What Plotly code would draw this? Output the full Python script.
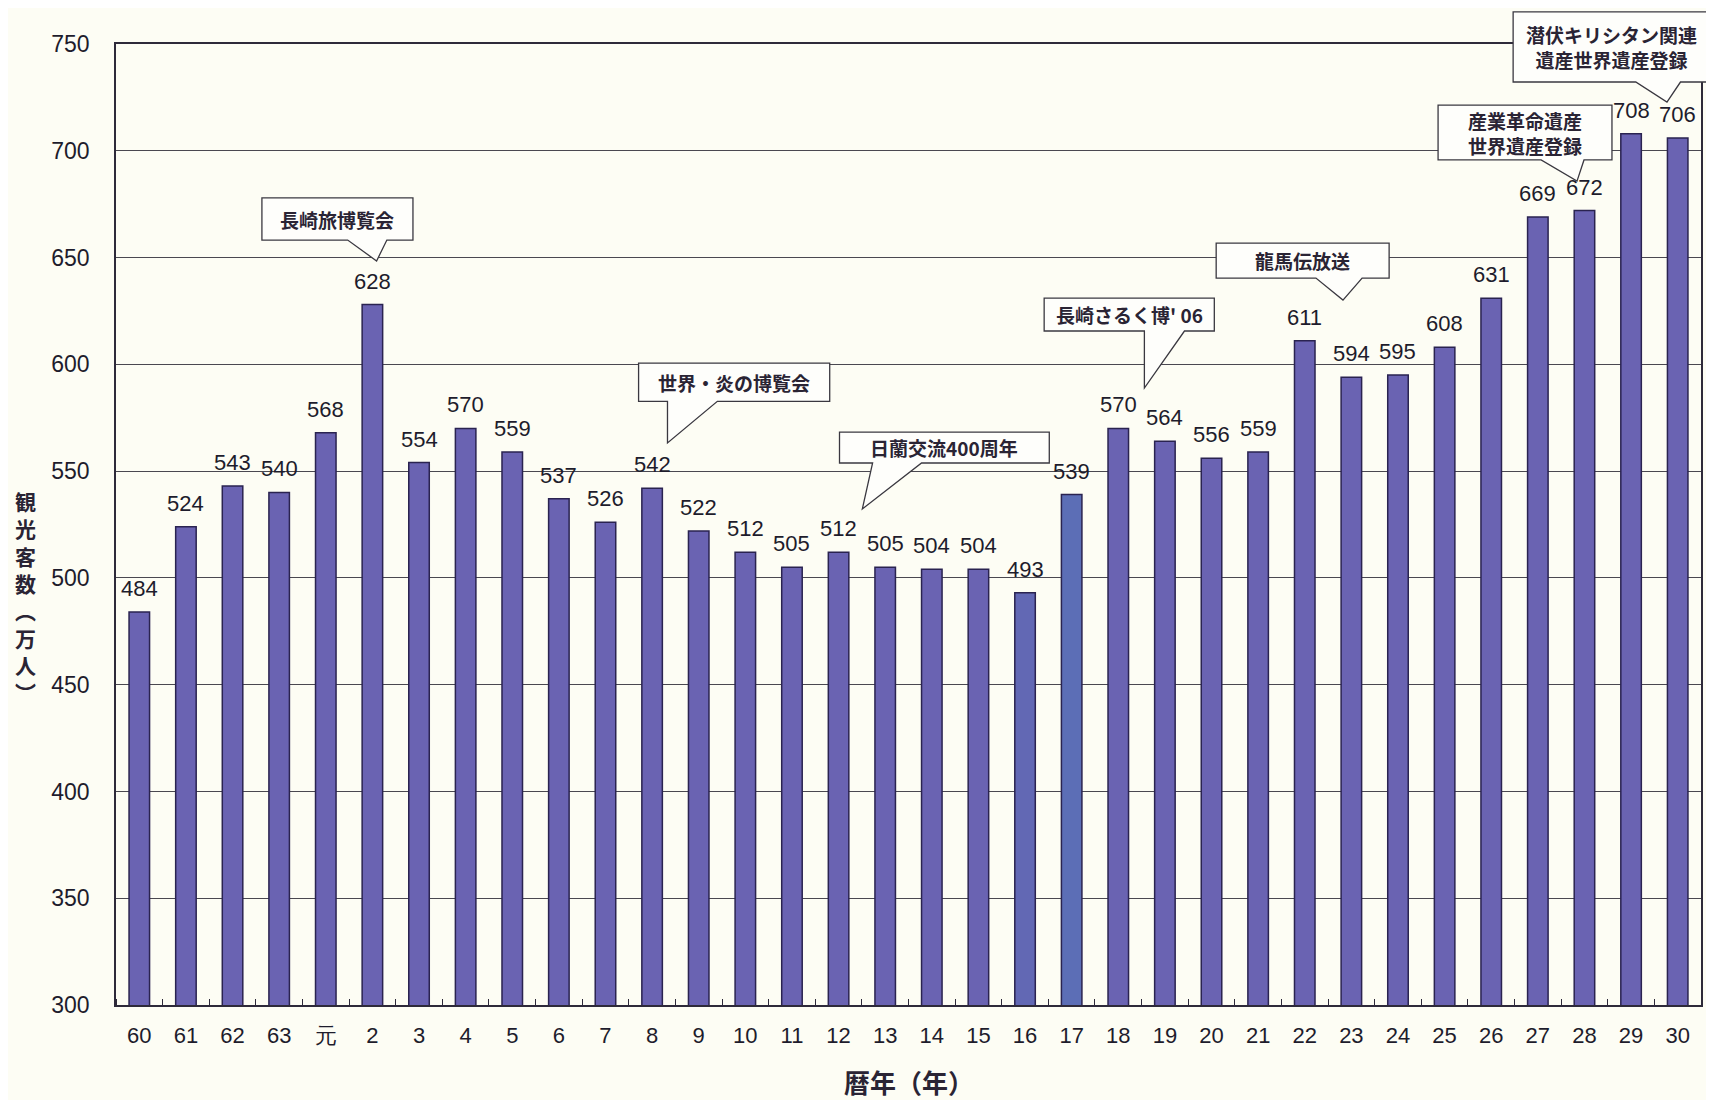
import plotly.graph_objects as go

# ---- data ----
years = ["60", "61", "62", "63", "元", "2", "3", "4", "5", "6", "7", "8", "9", "10",
         "11", "12", "13", "14", "15", "16", "17", "18", "19", "20", "21", "22", "23",
         "24", "25", "26", "27", "28", "29", "30"]
visitors = [484, 524, 543, 540, 568, 628, 554, 570, 559, 537, 526, 542, 522, 512,
            505, 512, 505, 504, 504, 493, 539, 570, 564, 556, 559, 611, 594,
            595, 608, 631, 669, 672, 708, 706]
y_ticks = [300, 350, 400, 450, 500, 550, 600, 650, 700, 750]

# callouts: text, box (x0, x1 in category index units, y0, y1 in value units),
# pointer base (xl, xr) and tip (x, y)
callouts = [
    dict(text="長崎旅博覧会", box=(2.63, 5.87, 658.2, 677.9), base=(4.47, 5.31), tip=(5.09, 648.4)),
    dict(text="世界・炎の博覧会", box=(10.71, 14.81, 582.7, 600.6), base=(11.33, 12.40), tip=(11.33, 563.2)),
    dict(text="日蘭交流400周年", box=(15.02, 19.52, 553.8, 568.3), base=(15.73, 16.78), tip=(15.51, 532.3)),
    dict(text="長崎さるく博' 06", box=(19.41, 23.06, 615.6, 631.0), base=(21.56, 22.42), tip=(21.56, 588.9)),
    dict(text="龍馬伝放送", box=(23.10, 26.81, 640.4, 656.8), base=(25.24, 26.23), tip=(25.82, 630.1)),
    dict(text="産業革命遺産<br>世界遺産登録", box=(27.86, 31.59, 695.7, 721.4), base=(30.07, 30.99), tip=(30.84, 685.8)),
    dict(text="潜伏キリシタン関連<br>遺産世界遺産登録", box=(29.47, 33.70, 732.2, 765.0), base=(32.10, 33.06), tip=(32.77, 722.8)),
]

XMIN, XMAX = -0.5, len(years) - 0.5
YMIN, YMAX = 300, 750

def px(x):
    return (x - XMIN) / (XMAX - XMIN)

def py(y):
    return (y - YMIN) / (YMAX - YMIN)

NUM_FONT = "Liberation Sans, Arial, sans-serif"
JP_FONT = "Noto Sans CJK JP, sans-serif"
BG = "#fdfdf4"

idx = list(range(len(years)))
bar_colors = ["#6a63b2"] * len(years)
bar_colors[years.index("16")] = "#6268b4"
bar_colors[years.index("17")] = "#5c6eb6"

fig = go.Figure()
fig.add_trace(go.Bar(
    x=idx, y=visitors, width=0.44,
    marker=dict(color=bar_colors, line=dict(color="#2a2350", width=1.5)),
    hoverinfo="x+y",
))

annotations = []
for i, v in zip(idx, visitors):
    annotations.append(dict(
        x=i, y=v, xref="x", yref="y", text=str(v), showarrow=False,
        yanchor="bottom", yshift=9,
        font=dict(family=NUM_FONT, size=22, color="#1e1c2c"),
    ))

shapes = []
for c in callouts:
    x0, x1, y0, y1 = c["box"]
    bl, br = c["base"]
    tx, ty = c["tip"]
    path = (f"M {px(x0)},{py(y1)} L {px(x1)},{py(y1)} L {px(x1)},{py(y0)} "
            f"L {px(br)},{py(y0)} L {px(tx)},{py(ty)} L {px(bl)},{py(y0)} "
            f"L {px(x0)},{py(y0)} Z")
    shapes.append(dict(type="path", path=path, xref="paper", yref="paper",
                       fillcolor="#fefefb", line=dict(color="#3a3840", width=1.3),
                       layer="above"))
    annotations.append(dict(
        x=px((x0 + x1) / 2), y=py((y0 + y1) / 2), xref="paper", yref="paper",
        text="<b>" + c["text"] + "</b>", showarrow=False,
        xanchor="center", yanchor="middle", align="center",
        font=dict(family=JP_FONT, size=19, color="#2a2434"),
    ))

# axis titles
annotations.append(dict(
    x=-0.0573, y=0.425, xref="paper", yref="paper",
    text="<b>" + "<br>".join(list("観光客数︵万人︶")) + "</b>", showarrow=False,
    xanchor="center", yanchor="middle",
    font=dict(family=JP_FONT, size=21, color="#2a2434"),
))
annotations.append(dict(
    x=0.5, y=-0.08, xref="paper", yref="paper", text="<b>暦年（年）</b>",
    showarrow=False, xanchor="center", yanchor="middle",
    font=dict(family=JP_FONT, size=26, color="#2a2434"),
))

fig.update_layout(
    width=1706, height=1092,
    margin=dict(l=108, r=11, t=36, b=95),
    paper_bgcolor=BG, plot_bgcolor=BG,
    showlegend=False,
    annotations=annotations,
    shapes=shapes,
    xaxis=dict(
        range=[XMIN, XMAX], tickmode="array", tickvals=idx, ticktext=years,
        showgrid=False, zeroline=False,
        showline=True, linecolor="#2e2a3a", linewidth=1.6, mirror=True,
        ticks="outside", ticklen=10, tickcolor="rgba(0,0,0,0)",
        tickfont=dict(family=NUM_FONT, size=22, color="#1e1c2c"),
        minor=dict(tickmode="linear", tick0=0.5, dtick=1, ticks="inside",
                   ticklen=6, tickcolor="#2e2a3a", tickwidth=1.2, showgrid=False),
    ),
    yaxis=dict(
        range=[YMIN, YMAX], tickmode="array", tickvals=y_ticks,
        showgrid=True, gridcolor="#4a4850", gridwidth=1.3, zeroline=False,
        showline=True, linecolor="#2e2a3a", linewidth=1.6, mirror=True,
        ticks="outside", ticklen=20, tickcolor="rgba(0,0,0,0)",
        tickfont=dict(family=NUM_FONT, size=23, color="#1e1c2c"),
    ),
)

fig.write_html("out.html")
